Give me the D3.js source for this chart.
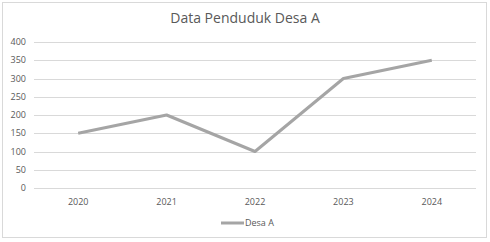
<!DOCTYPE html>
<html>
<head>
<meta charset="utf-8">
<script src="https://cdn.jsdelivr.net/npm/d3@7"></script>
<style>
  body { margin: 0; background: #fff; }
  text { font-family: "Open Sans", "Liberation Sans", sans-serif; fill: #595959; }
</style>
</head>
<body>
<svg id="chart" width="490" height="242"></svg>
<script>
const years = ['2020', '2021', '2022', '2023', '2024'];
const penduduk = [150, 200, 100, 300, 350];
const yTicks = [0, 50, 100, 150, 200, 250, 300, 350, 400];
const seriesName = 'Desa A';

const svg = d3.select('#chart');
// outer frame
svg.append('rect')
  .attr('x', 2.5).attr('y', 2.5)
  .attr('width', 484).attr('height', 235)
  .attr('fill', '#fff')
  .attr('stroke', '#d9d9d9');

const x = d3.scaleBand().domain(years).range([34, 476]);
const y = d3.scaleLinear().domain([0, 400]).range([188, 42]);

// title
svg.append('text')
  .attr('x', 245).attr('y', 23)
  .attr('text-anchor', 'middle')
  .style('font-size', '14px')
  .text('Data Penduduk Desa A');

// gridlines
svg.append('g').selectAll('line')
  .data(yTicks)
  .enter().append('line')
  .attr('x1', 34).attr('x2', 476)
  .attr('y1', d => Math.round(y(d)) + 0.5)
  .attr('y2', d => Math.round(y(d)) + 0.5)
  .attr('stroke', '#d9d9d9');

// y labels
svg.append('g').selectAll('text')
  .data(yTicks)
  .enter().append('text')
  .attr('x', 26)
  .attr('y', d => y(d) + 3)
  .attr('text-anchor', 'end')
  .style('font-size', '9px')
  .text(d => d);

// x labels
svg.append('g').selectAll('text')
  .data(years)
  .enter().append('text')
  .attr('x', d => x(d) + x.bandwidth() / 2)
  .attr('y', 205)
  .attr('text-anchor', 'middle')
  .style('font-size', '9px')
  .text(d => d);

// the line
const line = d3.line()
  .x((d, i) => x(years[i]) + x.bandwidth() / 2)
  .y(d => y(d));

svg.append('path')
  .datum(penduduk)
  .attr('d', line)
  .attr('fill', 'none')
  .attr('stroke', '#a5a5a5')
  .attr('stroke-width', 3)
  .attr('stroke-linejoin', 'round');

// legend
svg.append('line')
  .attr('x1', 221).attr('x2', 244)
  .attr('y1', 223).attr('y2', 223)
  .attr('stroke', '#a5a5a5')
  .attr('stroke-width', 3);
svg.append('text')
  .attr('x', 245).attr('y', 226)
  .style('font-size', '9px')
  .text(seriesName);
</script>
</body>
</html>
